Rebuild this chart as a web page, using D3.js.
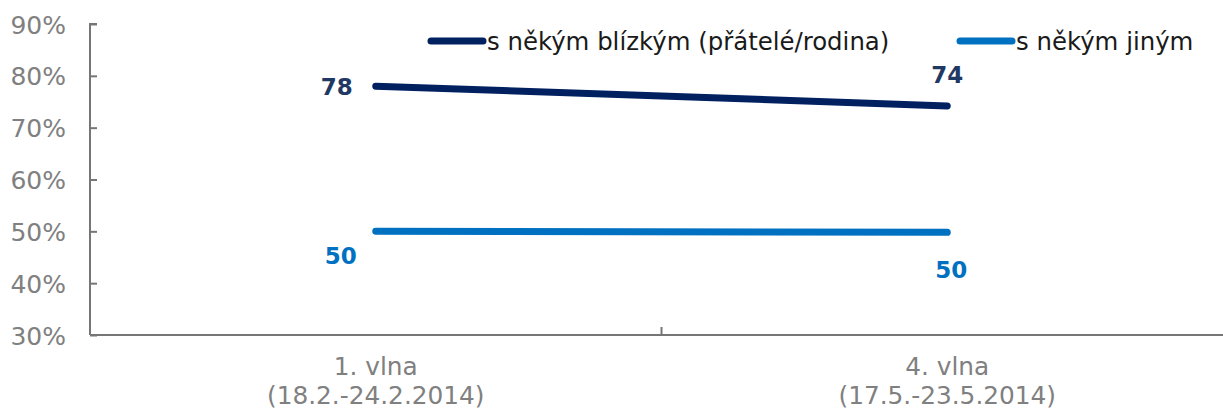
<!DOCTYPE html>
<html><head><meta charset="utf-8">
<script src="https://cdn.jsdelivr.net/npm/d3@7"></script>
<style>body{margin:0;background:#fff}svg{display:block}text{font-family:"DejaVu Sans",Verdana,sans-serif}</style>
</head><body><svg id="c" width="1223" height="408"></svg>
<script>
const categories = ["1. vlna|(18.2.-24.2.2014)", "4. vlna|(17.5.-23.5.2014)"];
const seriesNames = ["s někým blízkým (přátelé/rodina)", "s někým jiným"];
const closeValues = [78, 74.2];
const otherValues = [50, 49.8];
const closeLabels = ["78", "74"];
const otherLabels = ["50", "50"];
const yTicks = [30, 40, 50, 60, 70, 80, 90];

const svg = d3.select("#c");
const x = d3.scaleBand().domain(d3.range(categories.length)).range([90, 1233]);
const y = d3.scaleLinear().domain([30, 90]).range([335, 24]);
const gray = "#767676";

// y axis
const ya = svg.append("g").attr("transform", "translate(90,0)")
  .call(d3.axisRight(y).tickValues(yTicks).tickSize(7).tickFormat(d => d + "%"));
ya.select(".domain").attr("stroke", gray).attr("stroke-width", 2).attr("d", "M7,24H0V335");
ya.selectAll(".tick line").attr("stroke", gray).attr("stroke-width", 2);
ya.selectAll(".tick text").attr("x", -24).attr("text-anchor", "end").attr("dy", "0.36em")
  .attr("fill", "#808080").attr("font-size", 25);

// x axis
const xa = svg.append("g").attr("transform", "translate(0,335)")
  .call(d3.axisBottom(x).tickSize(0).tickFormat(""));
xa.select(".domain").attr("stroke", gray).attr("stroke-width", 2).attr("d", "M90,0H1233");
// category boundary tick
svg.append("line").attr("x1", x(1)).attr("x2", x(1)).attr("y1", 335).attr("y2", 327)
  .attr("stroke", gray).attr("stroke-width", 2);
categories.forEach((c, i) => {
  const parts = c.split("|");
  const t = svg.append("text").attr("text-anchor", "middle").attr("fill", "#808080").attr("font-size", 24.8);
  parts.forEach((p, j) => t.append("tspan").attr("x", x(i) + x.bandwidth() / 2).attr("y", 375 + j * 29).text(p));
});

const cx = i => x(i) + x.bandwidth() / 2;
const line = d3.line().x((d, i) => cx(i)).y(d => y(d));
svg.append("path").datum(closeValues).attr("d", line).attr("fill", "none")
  .attr("stroke", "#002060").attr("stroke-width", 7).attr("stroke-linecap", "round");
svg.append("path").datum(otherValues).attr("d", line).attr("fill", "none")
  .attr("stroke", "#0070C0").attr("stroke-width", 7).attr("stroke-linecap", "round");

// data labels
const lbl = (txt, xx, yy, col) => svg.append("text").attr("x", xx).attr("y", yy).attr("text-anchor", "middle")
  .attr("font-weight", "bold").attr("font-size", 23).attr("fill", col).text(txt);
lbl(closeLabels[0], cx(0) - 39, y(closeValues[0]) + 9, "#1F3864");
lbl(closeLabels[1], cx(1), y(closeValues[1]) - 23, "#1F3864");
lbl(otherLabels[0], cx(0) - 35, y(otherValues[0]) + 33, "#0070C0");
lbl(otherLabels[1], cx(1) + 4, y(otherValues[1]) + 46, "#0070C0");

// legend
const leg = [{x: 431, c: "#002060"}, {x: 960, c: "#0070C0"}];
leg.forEach((l, i) => {
  svg.append("line").attr("x1", l.x).attr("x2", l.x + 52).attr("y1", 41).attr("y2", 41)
    .attr("stroke", l.c).attr("stroke-width", 7).attr("stroke-linecap", "round");
  svg.append("text").attr("x", l.x + 56).attr("y", 50).attr("font-size", 24.4).attr("fill", "#1a1a1a").text(seriesNames[i]);
});
</script></body></html>
